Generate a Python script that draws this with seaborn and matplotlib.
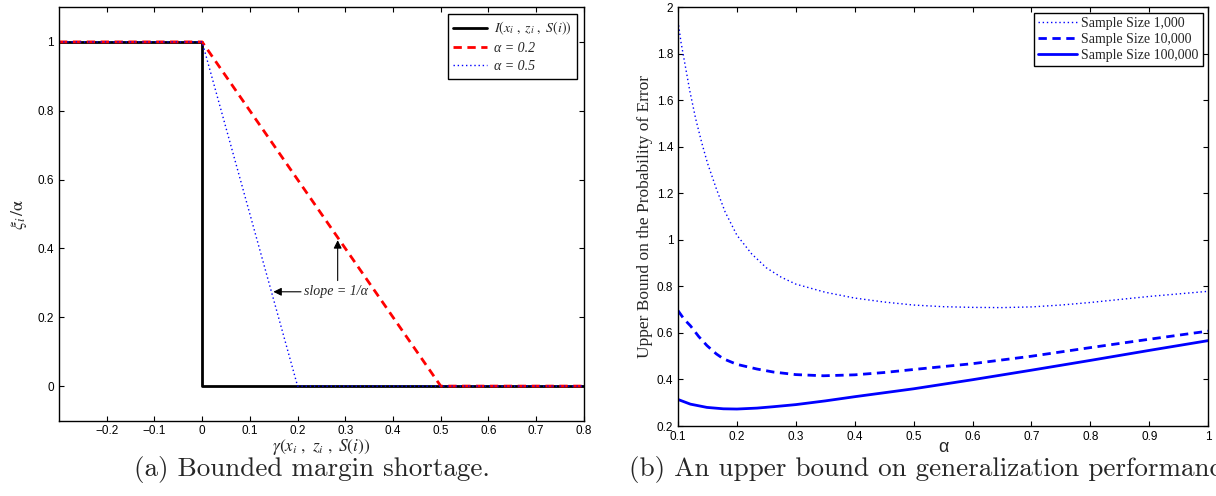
import numpy as np
import seaborn as sns
import matplotlib.pyplot as plt
from matplotlib.font_manager import FontProperties

# ---- panel (a): bounded margin shortage ----
margin_x = [-0.3, 0.0, 0.0, 0.8]
indicator_y = [1, 1, 0, 0]
red_x = [-0.3, 0.0, 0.5, 0.8]
red_y = [1, 1, 0, 0]
blue_x = [-0.3, 0.0, 0.2, 0.8]
blue_y = [1, 1, 0, 0]
left_labels = [r'$I(x_i\ ,\ z_i\ ,\ S(i))$', 'α = 0.2', 'α = 0.5']

# ---- panel (b): upper bound vs alpha ----
alpha_1k = [0.1, 0.105, 0.11, 0.12, 0.13, 0.14, 0.15, 0.165, 0.18, 0.2, 0.225,
            0.25, 0.275, 0.3, 0.35, 0.4, 0.45, 0.5, 0.55, 0.6, 0.65, 0.7, 0.75,
            0.8, 0.85, 0.9, 0.95, 1.0]
bound_1k = [1.94, 1.85, 1.78, 1.64, 1.52, 1.42, 1.33, 1.22, 1.12, 1.02, 0.94,
            0.88, 0.84, 0.81, 0.775, 0.75, 0.733, 0.72, 0.713, 0.71, 0.709,
            0.712, 0.72, 0.731, 0.744, 0.757, 0.768, 0.779]
alpha_10k = [0.1, 0.11, 0.121, 0.135, 0.149, 0.165, 0.177, 0.2, 0.234, 0.262,
             0.3, 0.347, 0.4, 0.45, 0.5, 0.6, 0.7, 0.8, 0.9, 1.0]
bound_10k = [0.696, 0.66, 0.631, 0.585, 0.546, 0.51, 0.489, 0.465, 0.445, 0.432,
             0.421, 0.416, 0.42, 0.43, 0.443, 0.468, 0.5, 0.537, 0.573, 0.608]
alpha_100k = [0.1, 0.121, 0.149, 0.177, 0.2, 0.234, 0.262, 0.3, 0.35, 0.4,
              0.45, 0.5, 0.6, 0.7, 0.8, 0.9, 1.0]
bound_100k = [0.314, 0.294, 0.28, 0.274, 0.273, 0.277, 0.283, 0.292, 0.308,
              0.326, 0.343, 0.36, 0.399, 0.44, 0.482, 0.525, 0.567]
right_labels = ['Sample Size 1,000', 'Sample Size 10,000', 'Sample Size 100,000']

sns.set_theme(style='ticks')
plt.rcParams['font.family'] = ['Liberation Sans', 'DejaVu Sans']
plt.rcParams['mathtext.fontset'] = 'stix'
plt.rcParams['axes.linewidth'] = 1.0
plt.rcParams['axes.edgecolor'] = 'black'
for a in ('x', 'y'):
    plt.rcParams[a + 'tick.direction'] = 'in'
    plt.rcParams[a + 'tick.major.size'] = 3.5
    plt.rcParams[a + 'tick.major.width'] = 0.8
    plt.rcParams[a + 'tick.labelsize'] = 8.5
    plt.rcParams[a + 'tick.color'] = 'black'
plt.rcParams['xtick.top'] = True
plt.rcParams['ytick.right'] = True

fig = plt.figure(figsize=(12.16, 4.96), dpi=100)
ax1 = fig.add_axes([0.0485, 0.1522, 0.4317, 0.8327])
ax2 = fig.add_axes([0.5576, 0.1411, 0.4359, 0.8442])

dashed = (0, (3, 2))
dotted = (0, (1, 2))

sns.lineplot(x=margin_x, y=indicator_y, ax=ax1, color='black', lw=2,
             sort=False, estimator=None, label=left_labels[0])
sns.lineplot(x=red_x, y=red_y, ax=ax1, color='red', lw=2, linestyle=dashed,
             sort=False, estimator=None, label=left_labels[1])
sns.lineplot(x=blue_x, y=blue_y, ax=ax1, color='blue', lw=1, linestyle=dotted,
             sort=False, estimator=None, label=left_labels[2])

ax1.set_xlim(-0.3, 0.8)
ax1.set_ylim(-0.1, 1.1)
xt = [-0.2, -0.1, 0, 0.1, 0.2, 0.3, 0.4, 0.5, 0.6, 0.7, 0.8]
ax1.set_xticks(xt)
ax1.set_xticklabels(['\u22120.2', '\u22120.1', '0', '0.1', '0.2', '0.3', '0.4',
                     '0.5', '0.6', '0.7', '0.8'])
ax1.set_yticks([0, 0.2, 0.4, 0.6, 0.8, 1])
ax1.set_yticklabels(['0', '0.2', '0.4', '0.6', '0.8', '1'])
ax1.set_xlabel(r'$\gamma(x_i\ ,\ z_i\ ,\ S(i))$', fontsize=12.5, labelpad=0)
ax1.set_ylabel(r'$\xi_i\,/\mathrm{\alpha}$', fontsize=13, labelpad=6)

leg_font = FontProperties(family='Liberation Serif', style='italic', size=10)
leg1 = ax1.legend(loc='upper right', prop=leg_font, fancybox=False,
                  edgecolor='black', framealpha=1, handlelength=2.4,
                  handletextpad=0.5, borderaxespad=0.5, labelspacing=0.35,
                  borderpad=0.4)
leg1.get_frame().set_linewidth(1.0)

ax1.annotate('', xy=(0.284, 0.432), xytext=(0.284, 0.2985),
             arrowprops=dict(arrowstyle='-|>', color='black', lw=0.8,
                             mutation_scale=12))
ax1.annotate('', xy=(0.1434, 0.274), xytext=(0.213, 0.274),
             arrowprops=dict(arrowstyle='-|>', color='black', lw=0.8,
                             mutation_scale=12))
ax1.text(0.213, 0.274, 'slope = 1/α', fontsize=10, va='center', ha='left',
         family='Liberation Serif', style='italic')

sns.lineplot(x=alpha_1k, y=bound_1k, ax=ax2, color='blue', lw=1,
             linestyle=dotted, sort=False, estimator=None, label=right_labels[0])
sns.lineplot(x=alpha_10k, y=bound_10k, ax=ax2, color='blue', lw=2,
             linestyle=dashed, sort=False, estimator=None, label=right_labels[1])
sns.lineplot(x=alpha_100k, y=bound_100k, ax=ax2, color='blue', lw=2,
             sort=False, estimator=None, label=right_labels[2])

ax2.set_xlim(0.1, 1.0)
ax2.set_ylim(0.2, 2.0)
ax2.set_xticks(np.round(np.arange(0.1, 1.01, 0.1), 1))
ax2.set_xticklabels(['0.1', '0.2', '0.3', '0.4', '0.5', '0.6', '0.7', '0.8',
                     '0.9', '1'])
ax2.set_yticks(np.round(np.arange(0.2, 2.01, 0.2), 1))
ax2.set_yticklabels(['0.2', '0.4', '0.6', '0.8', '1', '1.2', '1.4', '1.6',
                     '1.8', '2'])
ax2.set_xlabel('α', fontsize=13, labelpad=-3)
ax2.set_ylabel('Upper Bound on the Probability of Error', fontsize=12.5,
               family='Liberation Serif', labelpad=3)

leg_font2 = FontProperties(family='Liberation Serif', size=10)
leg2 = ax2.legend(loc='upper right', prop=leg_font2, fancybox=False,
                  edgecolor='black', framealpha=1, handlelength=2.8,
                  borderaxespad=0.4, labelspacing=0.22, borderpad=0.3,
                  handletextpad=0.3)
leg2.get_frame().set_linewidth(1.0)

fig.text(312 / 1216, 1 - 476 / 496, '(a) Bounded margin shortage.',
         family='cmr10', fontsize=19.5, ha='center', va='baseline')
fig.text(629 / 1216, 1 - 476 / 496,
         '(b) An upper bound on generalization performance.',
         family='cmr10', fontsize=19.5, ha='left', va='baseline')

fig.savefig('out.png', dpi=100)
